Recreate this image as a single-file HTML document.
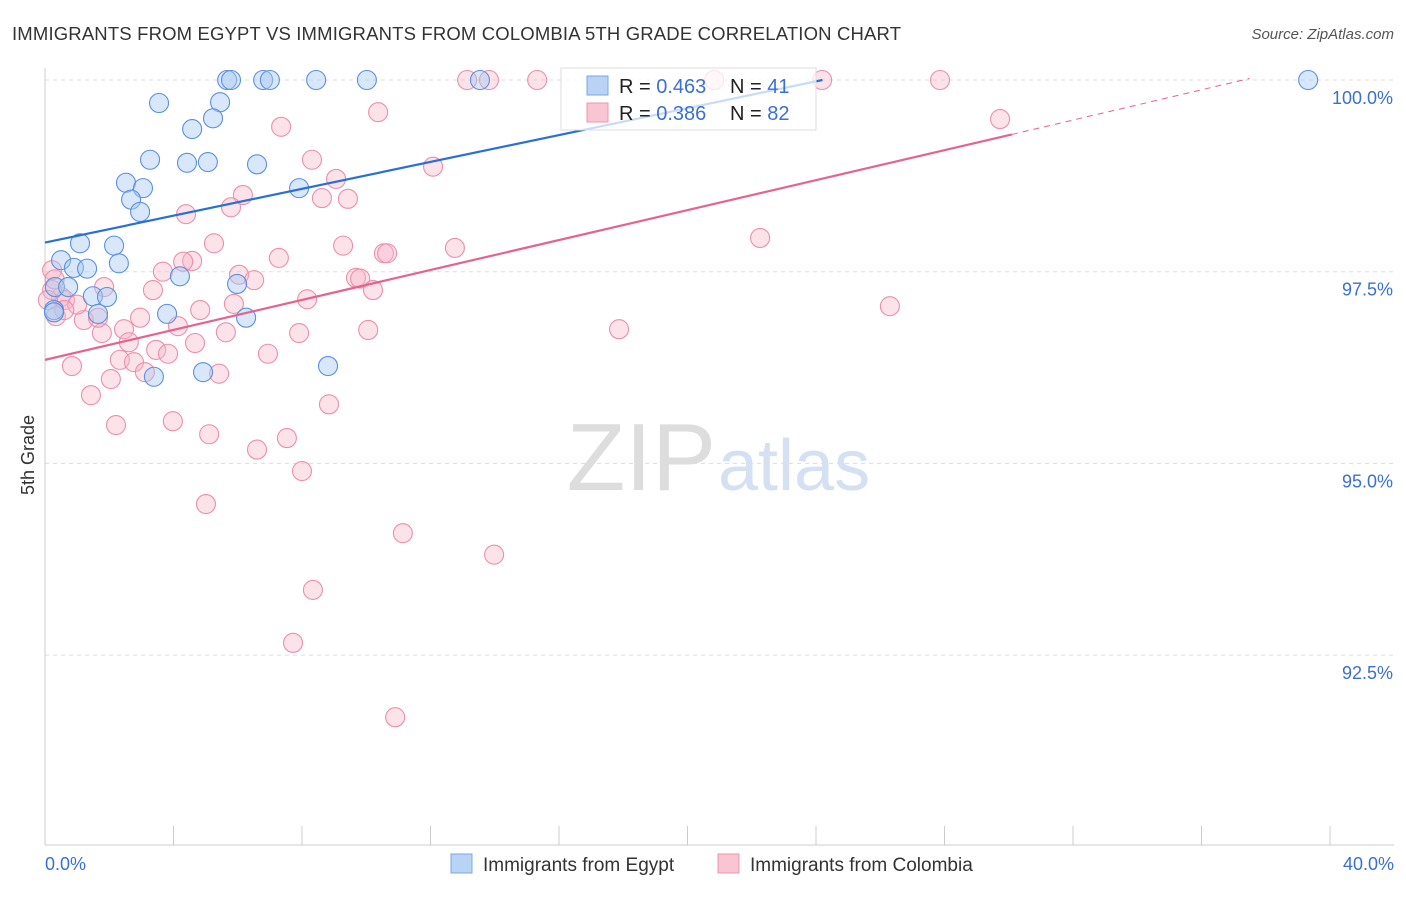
<!DOCTYPE html>
<html><head><meta charset="utf-8"><style>
body{margin:0;background:#fff;font-family:"Liberation Sans",sans-serif;}
svg text{font-family:"Liberation Sans",sans-serif;}
</style></head><body>
<svg id="c" width="1406" height="892" xmlns="http://www.w3.org/2000/svg">
<text x="12" y="40" font-size="18.5" fill="#333" textLength="889">IMMIGRANTS FROM EGYPT VS IMMIGRANTS FROM COLOMBIA 5TH GRADE CORRELATION CHART</text>
<text x="1394" y="39" font-size="15" fill="#555" font-style="italic" text-anchor="end">Source: ZipAtlas.com</text>
<text x="34" y="455" font-size="18" fill="#333" text-anchor="middle" transform="rotate(-90 34 455)">5th Grade</text>
<text x="716" y="490" font-size="96" fill="#ddd" text-anchor="end" font-family="Liberation Serif">ZIP</text>
<text x="718" y="490" font-size="72" fill="#d5e1f3">atlas</text>
<g id="grid"></g><g id="axes"></g><g id="pts"></g><g id="lines"></g>
<g>
<rect x="561" y="68" width="255" height="62" fill="#fff" fill-opacity="0.75" stroke="#ddd"/>
<rect x="587" y="76" width="21" height="19" fill="#b9d3f5" stroke="#7aa6e6"/>
<rect x="587" y="103" width="21" height="19" fill="#f9c5d3" stroke="#ee95ad"/>
<text x="619" y="93" font-size="20" fill="#222">R = <tspan fill="#3a6fd8">0.463</tspan></text>
<text x="730" y="93" font-size="20" fill="#222">N = <tspan fill="#3a6fd8">41</tspan></text>
<text x="619" y="120" font-size="20" fill="#222">R = <tspan fill="#3a6fd8">0.386</tspan></text>
<text x="730" y="120" font-size="20" fill="#222">N = <tspan fill="#3a6fd8">82</tspan></text>
</g>
<g>
<rect x="451" y="854" width="21" height="19" fill="#b9d3f5" stroke="#7aa6e6"/>
<text x="483" y="871" font-size="19" fill="#333">Immigrants from Egypt</text>
<rect x="718" y="854" width="21" height="19" fill="#f9c5d3" stroke="#ee95ad"/>
<text x="750" y="871" font-size="19" fill="#333">Immigrants from Colombia</text>
</g>
</svg>
<script>
const yTicks=[100,97.5,95,92.5];
const yTickLabels=["100.0%","97.5%","95.0%","92.5%"];
const xTicks=[0,4,8,12,16,20,24,28,32,36,40];
const egyptX=[5.67,5.79,6.79,7.00,8.44,10.02,13.54,39.32,3.55,5.45,4.58,5.23,3.27,4.42,5.07,6.60,2.52,3.05,2.68,2.96,7.91,1.09,2.15,0.50,0.90,1.31,2.30,4.20,5.98,0.31,0.72,1.49,1.93,0.28,1.65,3.80,6.26,4.92,3.39,8.81,0.28];
const egyptY=[100,100,100,100,100,100,100,100,99.70,99.71,99.36,99.50,98.96,98.92,98.93,98.90,98.66,98.59,98.44,98.28,98.59,97.87,97.84,97.65,97.55,97.54,97.61,97.44,97.34,97.30,97.30,97.18,97.17,97.00,96.95,96.95,96.90,96.19,96.13,96.27,96.97];
const colX=[13.14,13.82,15.32,20.83,24.19,27.86,10.37,7.35,29.73,12.08,8.31,9.06,8.62,9.43,6.16,4.39,5.79,22.26,5.26,9.28,12.76,10.55,10.65,7.28,4.58,4.30,3.67,6.04,6.51,9.68,9.81,10.21,3.36,1.84,0.50,0.62,8.16,5.88,26.30,4.83,2.96,1.21,2.46,4.14,5.63,7.91,10.06,17.87,1.77,2.61,4.67,3.46,3.83,6.94,2.33,2.77,0.84,3.11,5.42,2.05,1.43,8.84,3.98,2.21,5.11,7.53,6.60,8.00,5.01,11.14,13.98,8.34,7.72,10.90,0.22,0.22,0.34,0.09,1.00,1.65,0.30,0.60];
const colY=[100,100,100,100,100,100,99.58,99.39,99.49,98.87,98.96,98.71,98.46,98.45,98.50,98.25,98.34,97.94,97.87,97.84,97.81,97.74,97.74,97.68,97.64,97.63,97.50,97.46,97.39,97.42,97.41,97.26,97.26,97.30,97.17,97.13,97.14,97.08,97.05,97.00,96.90,96.87,96.75,96.79,96.71,96.70,96.74,96.75,96.70,96.58,96.57,96.48,96.43,96.43,96.35,96.32,96.27,96.19,96.17,96.10,95.89,95.77,95.55,95.50,95.38,95.33,95.18,94.90,94.47,94.09,93.81,93.35,92.66,91.69,97.52,97.26,96.92,97.13,97.07,96.90,97.40,97.00];
const egyptLine=[[0,97.88],[24.2,100]];
const colLine=[[0,96.35],[30.1,99.29]];
const colDash=[[30.1,99.29],[37.5,100.02]];
const X=v=>45+v/40*1285, Y=v=>80+(100-v)/2.5*191.7;
const NS="http://www.w3.org/2000/svg";
function mk(t,a,p){const e=document.createElementNS(NS,t);for(const k in a)e.setAttribute(k,a[k]);document.getElementById(p).appendChild(e);return e;}
yTicks.forEach((t,i)=>{
 let g=mk('line',{x1:45,x2:1394,y1:Y(t),y2:Y(t),stroke:'#ddd','stroke-dasharray':'4,4'},'grid');
 
 
 let l=mk('text',{x:1393,y:Y(t)+24,'font-size':18,fill:'#3a6fd8','text-anchor':'end'},'grid');
 l.textContent=yTickLabels[i];
 
 
});
let ax=mk('line',{x1:45,x2:1394,y1:845,y2:845,stroke:'#ccc'},'axes');


let ay=mk('line',{x1:45,x2:45,y1:68,y2:845,stroke:'#ccc'},'axes');


xTicks.forEach(t=>{
 let k=mk('line',{x1:X(t),x2:X(t),y1:826,y2:845,stroke:'#ccc'},'axes');
 
 
});
let x0=mk('text',{x:45,y:870,'font-size':18,fill:'#3a6fd8'},'axes');x0.textContent='0.0%';


let x1=mk('text',{x:1394,y:870,'font-size':18,fill:'#3a6fd8','text-anchor':'end'},'axes');x1.textContent='40.0%';


colX.forEach((v,i)=>{
 let c=mk('circle',{cx:X(v),cy:Y(colY[i]),r:9.5,fill:'#f7b6c8','fill-opacity':0.4,stroke:'#ec8fab','stroke-width':1.1},'pts');
 
 
});
egyptX.forEach((v,i)=>{
 let c=mk('circle',{cx:X(v),cy:Y(egyptY[i]),r:9.5,fill:'#a9c9f2','fill-opacity':0.45,stroke:'#5b90e0','stroke-width':1.1},'pts');
 
 
});
let bl=mk('line',{x1:X(egyptLine[0][0]),y1:Y(egyptLine[0][1]),x2:X(egyptLine[1][0]),y2:Y(egyptLine[1][1]),stroke:'#2a6fd6','stroke-width':2.2},'lines');


let pl=mk('line',{x1:X(colLine[0][0]),y1:Y(colLine[0][1]),x2:X(colLine[1][0]),y2:Y(colLine[1][1]),stroke:'#e4648e','stroke-width':2.2},'lines');


let pd=mk('line',{x1:X(colDash[0][0]),y1:Y(colDash[0][1]),x2:X(colDash[1][0]),y2:Y(colDash[1][1]),stroke:'#e4648e','stroke-width':1,'stroke-dasharray':'6,5'},'lines');


</script>
</body></html>
